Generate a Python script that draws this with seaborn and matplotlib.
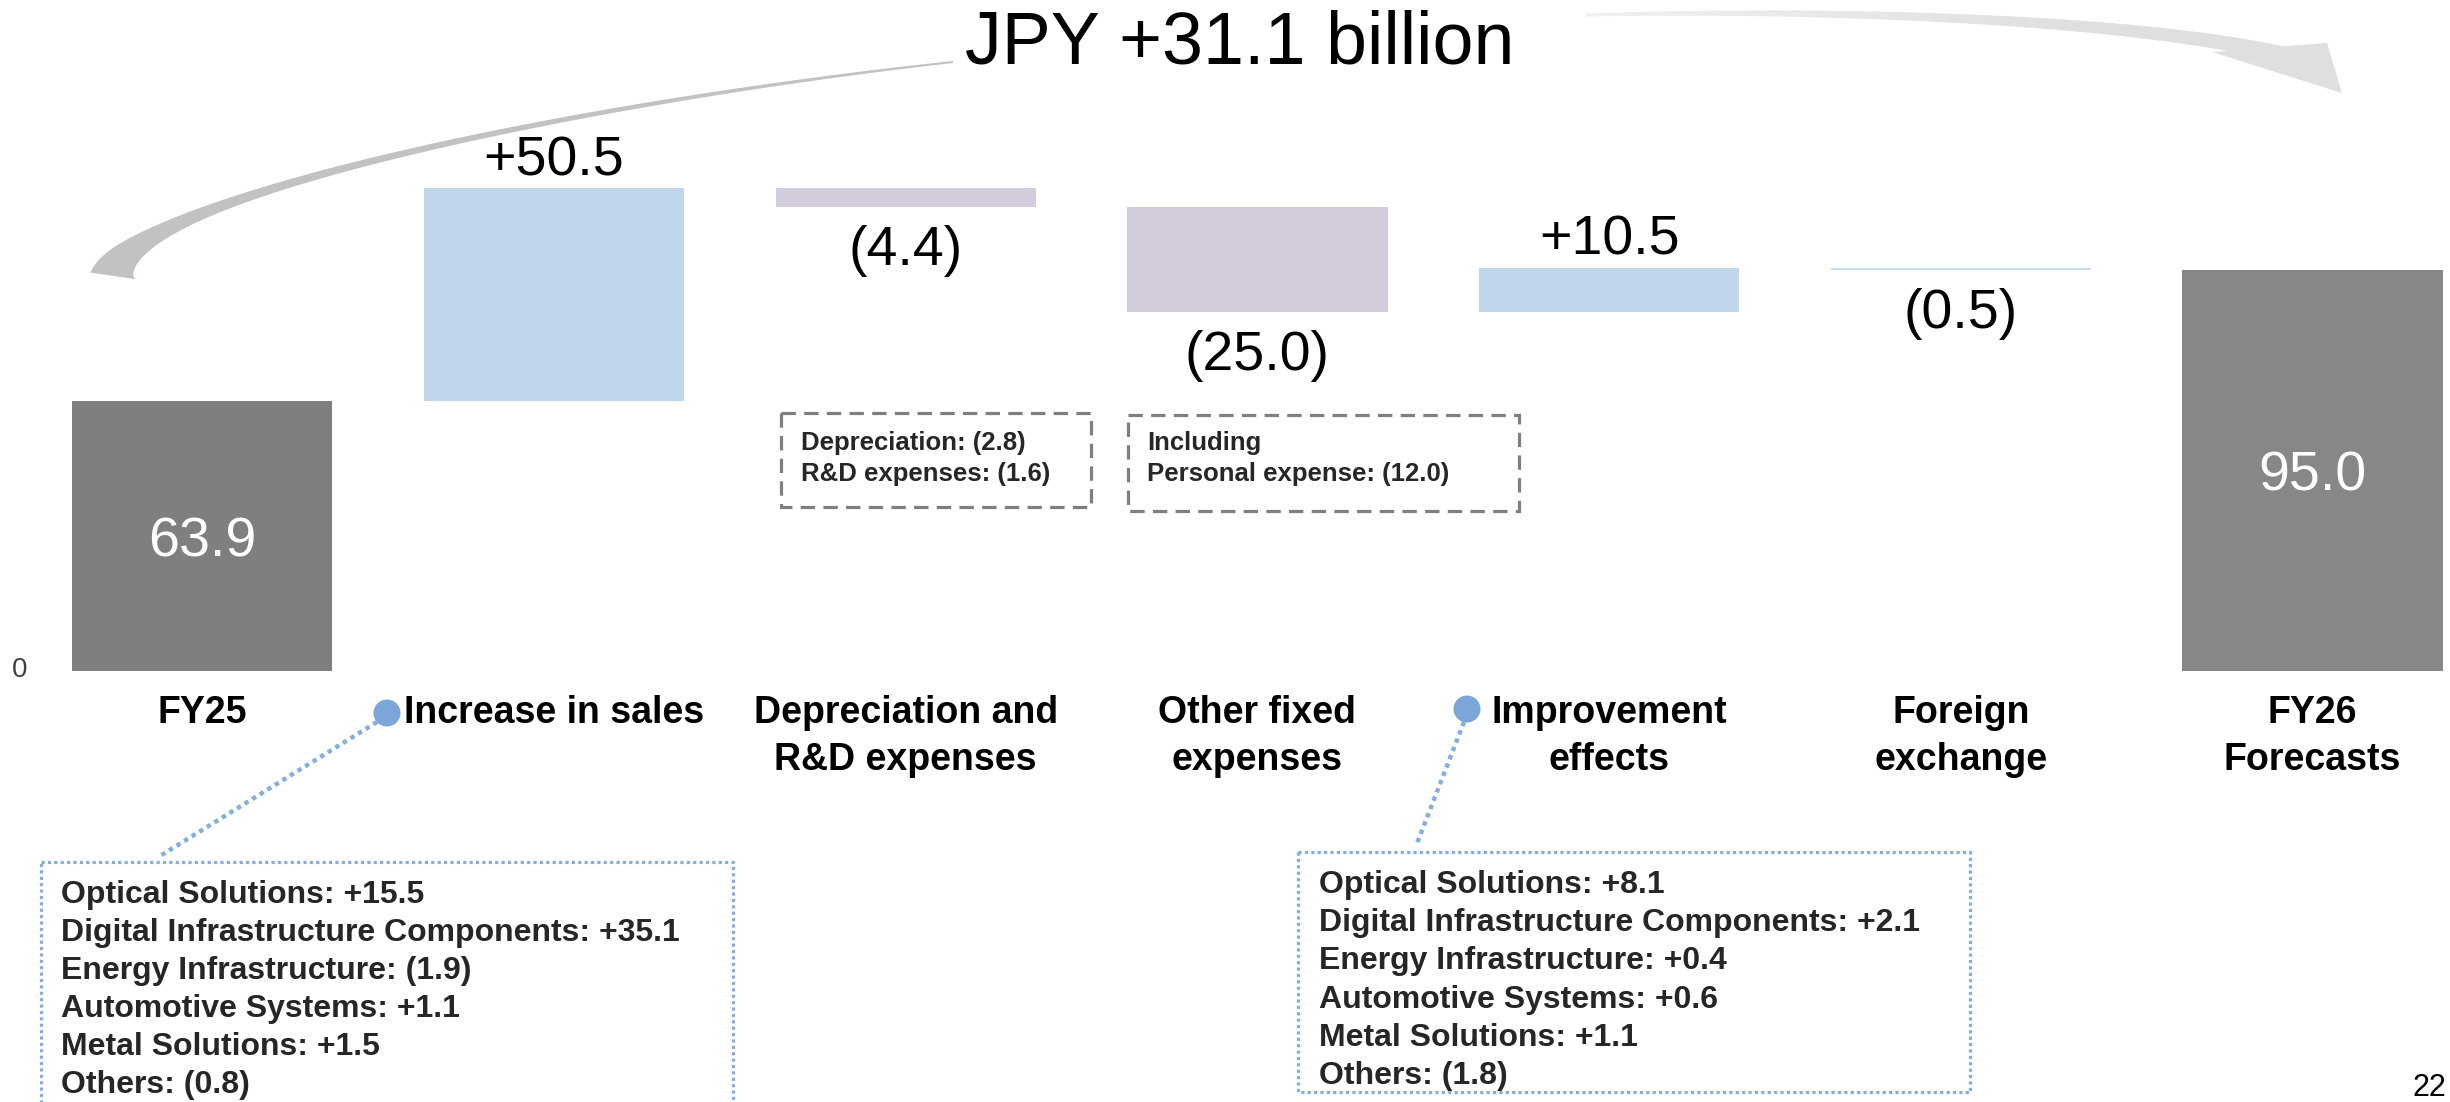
import numpy as np
import pandas as pd
import matplotlib
matplotlib.use("Agg")
import matplotlib.pyplot as plt
from matplotlib.patches import Polygon, Rectangle, Circle
import seaborn as sns

# ---------------- data ----------------
categories = ["FY25", "Increase in sales", "Depreciation and\nR&D expenses",
              "Other fixed\nexpenses", "Improvement\neffects", "Foreign\nexchange",
              "FY26\nForecasts"]
values = [63.9, 50.5, -4.4, -25.0, 10.5, -0.5, 95.0]
is_total = [True, False, False, False, False, False, True]
bar_colors = ["#7F7F7F", "#BFD6EC", "#D3CCDD", "#D3CCDD", "#BFD6EC", "#C9DCEE", "#878787"]

segments = ["Optical Solutions", "Digital Infrastructure Components", "Energy Infrastructure",
            "Automotive Systems", "Metal Solutions", "Others"]
sales_breakdown = [15.5, 35.1, -1.9, 1.1, 1.5, -0.8]
improvement_breakdown = [8.1, 2.1, 0.4, 0.6, 1.1, -1.8]

dep_items = ["Depreciation", "R&D expenses"]
dep_values = [-2.8, -1.6]
other_head = "Including"
other_items = ["Personal expense"]
other_values = [-12.0]

title_prefix = "JPY"
title_unit = "billion"
page_number = "22"


def fmt(v):
    return f"+{v:.1f}" if v >= 0 else f"({-v:.1f})"


# waterfall geometry from the data
bottoms, heights = [], []
running = 0.0
for v, tot in zip(values, is_total):
    if tot:
        bottoms.append(0.0)
        running = v
    else:
        bottoms.append(running)
        running += v
    heights.append(v)

# ---------------- style ----------------
sns.set_style("white")
plt.rcParams["font.family"] = ["Liberation Sans", "DejaVu Sans"]

W, H = 2450, 1102
fig = plt.figure(figsize=(W / 100, H / 100), dpi=100)
ax = fig.add_axes([0, 0, 1, 1])

df = pd.DataFrame({"category": categories, "height": heights})
sns.barplot(data=df, x="category", y="height", bottom=bottoms, width=0.74,
            color="#7F7F7F", saturation=1, errorbar=None, linewidth=0, ax=ax)
for p, c in zip(ax.patches, bar_colors):
    p.set_facecolor(c)
    p.set_edgecolor("none")

# map the data axes to the canvas
X0, DX = 202.3, 351.7     # px of category 0, px per category
Y0, DY = 671.0, 4.22      # px of zero line, px per unit
ax.set_xlim(-X0 / DX, (W - X0) / DX)
ax.set_ylim(-(H - Y0) / DY, Y0 / DY)
ax.set_axis_off()
PT = 0.72  # points per pixel

# value labels
for i, (v, b, tot) in enumerate(zip(values, bottoms, is_total)):
    if tot:
        ax.annotate(f"{v:.1f}", xy=(i, v / 2), xytext=(0, -20 * PT), textcoords="offset points",
                    ha="center", va="baseline", color="white", fontsize=40)
    else:
        top, low = max(b, b + v), min(b, b + v)
        if v > 0:
            ax.annotate(fmt(v), xy=(i, top), xytext=(0, 13 * PT), textcoords="offset points",
                        ha="center", va="baseline", color="black", fontsize=40)
        else:
            ax.annotate(fmt(v), xy=(i, low), xytext=(0, -58 * PT), textcoords="offset points",
                        ha="center", va="baseline", color="black", fontsize=40)

# category labels
for i, lab in enumerate(categories):
    for k, line in enumerate(lab.split("\n")):
        ax.annotate(line, xy=(i, 0), xytext=(0, -(52 + 47 * k) * PT), textcoords="offset points",
                    ha="center", va="baseline", fontsize=27, fontweight="bold", color="black")

# zero label
ax.annotate("0", xy=(-X0 / DX + 20 / DX, 0), xytext=(0, -6 * PT), textcoords="offset points",
            ha="center", va="baseline", fontsize=20, color="#404040")

# ---------------- overlay in pixel coordinates ----------------
ax2 = fig.add_axes([0, 0, 1, 1], facecolor="none")
ax2.set_xlim(0, W)
ax2.set_ylim(H, 0)
ax2.set_axis_off()

ax2.text(1240, 63, f"{title_prefix} {values[-1] - values[0]:+.1f} {title_unit}",
         ha="center", va="baseline", fontsize=53, color="black")


def bez(P, t):
    P = np.asarray(P, float)
    t = t[:, None]
    return (1 - t) ** 3 * P[0] + 3 * (1 - t) ** 2 * t * P[1] + 3 * (1 - t) * t ** 2 * P[2] + t ** 3 * P[3]


def bez_d(P, t):
    P = np.asarray(P, float)
    t = t[:, None]
    return 3 * (1 - t) ** 2 * (P[1] - P[0]) + 6 * (1 - t) * t * (P[2] - P[1]) + 3 * t ** 2 * (P[3] - P[2])


def band_edges(P, t, w):
    B = bez(P, t)
    D = bez_d(P, t)
    N = np.stack([-D[:, 1], D[:, 0]], axis=1)
    N /= np.linalg.norm(N, axis=1)[:, None]
    return B + N * w[:, None] / 2, B - N * w[:, None] / 2


# left curved band
PL = [(953, 62), (560, 105), (125, 200), (114, 276)]
t = np.linspace(0, 1, 400)
wl = 2 + 9 * t + 37 * t ** 8
L, R = band_edges(PL, t, wl)
ax2.add_patch(Polygon(np.vstack([L, R[::-1]]), closed=True, fc="#C2C2C2", ec="none"))

# right curved arrow with light gradient
PR = [(1586, 15), (1860, 8), (2150, 22), (2285, 55)]
nseg = 40
for j in range(nseg):
    tt = np.linspace(j / nseg, (j + 1) / nseg + 0.004, 12)
    tt = np.clip(tt, 0, 1)
    wr = 3 + 13 * tt
    L, R = band_edges(PR, tt, wr)
    g = 0.94 - (0.94 - 0.875) * min(1.0, (j / nseg) / 0.6)
    ax2.add_patch(Polygon(np.vstack([L, R[::-1]]), closed=True, fc=(g, g, g), ec="none"))
ax2.add_patch(Polygon([(2212, 52), (2327, 43), (2342, 93)], closed=True, fc="#DFDFDF", ec="none"))

# gray dashed note boxes
gray = "#7F7F7F"
ax2.add_patch(Rectangle((781, 413), 310, 94, fill=False, ec=gray, lw=2.3, ls=(0, (4.5, 2.6))))
ax2.add_patch(Rectangle((1128, 415), 391, 96, fill=False, ec=gray, lw=2.3, ls=(0, (4.5, 2.6))))
for k, (n, v) in enumerate(zip(dep_items, dep_values)):
    ax2.text(801, 450 + 31 * k, f"{n}: {fmt(v)}", fontsize=18.5, fontweight="bold", va="baseline")
ax2.text(1147, 450, other_head, fontsize=18.5, fontweight="bold", va="baseline")
for k, (n, v) in enumerate(zip(other_items, other_values)):
    ax2.text(1147, 481 + 31 * k, f"{n}: {fmt(v)}", fontsize=18.5, fontweight="bold", va="baseline")

# blue dotted breakdown boxes with connectors
blue_dot = "#86AEDD"
ax2.add_patch(Circle((387, 713), 13.5, fc="#7BA7D8", ec="none", zorder=5))
ax2.add_patch(Circle((1467, 709), 13.5, fc="#7BA7D8", ec="none", zorder=5))
ax2.plot([377, 160], [722, 856], color=blue_dot, lw=3.2, ls=(0, (1, 1)), dash_capstyle="butt")
ax2.plot([1464, 1416], [722, 846], color=blue_dot, lw=3.2, ls=(0, (1, 1)), dash_capstyle="butt")
ax2.add_patch(Rectangle((41, 862), 692, 320, fill=False, ec=blue_dot, lw=2.3, ls=(0, (1, 1))))
ax2.add_patch(Rectangle((1298, 852), 672, 240, fill=False, ec=blue_dot, lw=2.3, ls=(0, (1, 1))))

for k, (s, v) in enumerate(zip(segments, sales_breakdown)):
    ax2.text(61, 903 + 38 * k, f"{s}: {fmt(v)}", fontsize=23, fontweight="bold", va="baseline")
for k, (s, v) in enumerate(zip(segments, improvement_breakdown)):
    ax2.text(1319, 893 + 38.2 * k, f"{s}: {fmt(v)}", fontsize=23, fontweight="bold", va="baseline")

# page number, kept just inside the right edge
ax2.text(2446, 1096, page_number, ha="right", va="baseline", fontsize=22, color="black")

fig.savefig("out.png", dpi=100, facecolor="white")
